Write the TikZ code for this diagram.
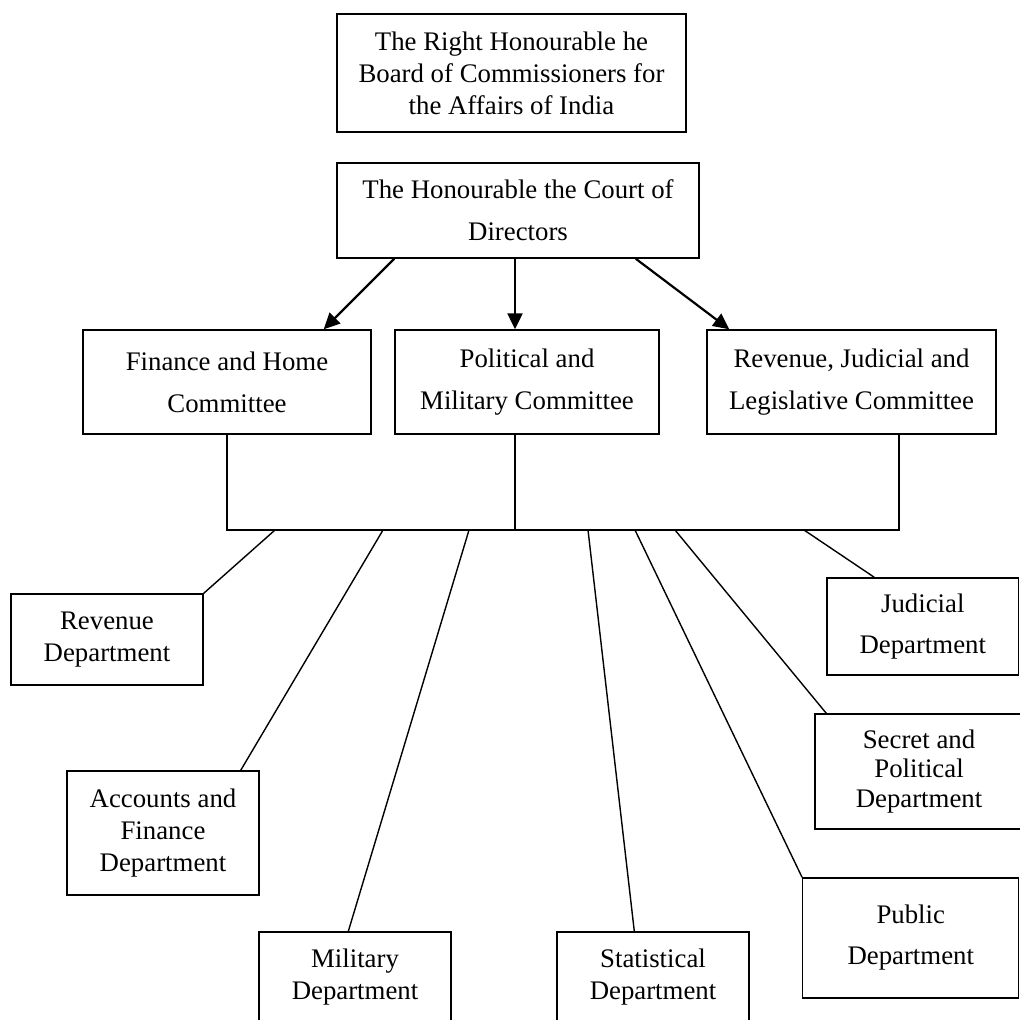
\documentclass[tikz,border=0pt]{standalone}
\usepackage{fontspec}
\setmainfont{Liberation Serif}
\usetikzlibrary{arrows.meta}
\begin{document}
\begin{tikzpicture}[x=0.5pt,y=-0.5pt,
  box/.style={draw, line width=0.7pt, inner sep=0pt, align=center, font=\fontsize{13.4}{16}\selectfont},
  wide/.style={font=\fontsize{13.4}{21}\selectfont},
  link/.style={line width=0.7pt},
  arr/.style={line width=1.1pt, -{Triangle[length=8pt,width=7.5pt]}}]
\useasboundingbox (0,0) rectangle (1020,1019);
\clip (0,0) rectangle (1020,1019);

% top level
\node[box, minimum width=174.5pt, minimum height=59pt] (board) at (511.5,73)
  {The Right Honourable he\\Board of Commissioners for\\the Affairs of India};
\node[box, wide, minimum width=181pt, minimum height=47.5pt] (court) at (518,210.5)
  {The Honourable the Court of\\Directors};

% committees
\node[box, wide, minimum width=144pt, minimum height=52pt] (fin) at (227,382)
  {Finance and Home\\Committee};
\node[box, wide, minimum width=132pt, minimum height=52pt] (pol) at (527,382)
  {Political and\\Military Committee};
\node[box, wide, minimum width=144.5pt, minimum height=52pt] (rjl) at (851.5,382)
  {Revenue, Judicial and\\Legislative Committee};

% departments
\node[box, minimum width=96pt, minimum height=45.5pt] (revd) at (107,639.5)
  {Revenue\\Department};
\node[box, minimum width=96pt, minimum height=62pt] (acc) at (163,833)
  {Accounts and\\Finance\\Department};
\node[box, minimum width=96pt, minimum height=45pt] (mil) at (355,977)
  {Military\\Department};
\node[box, minimum width=96pt, minimum height=45pt] (stat) at (653,977)
  {Statistical\\Department};
\node[box, font=\fontsize{13.4}{20.5}\selectfont, minimum width=108pt, minimum height=60pt] (pub) at (910.75,938)
  {Public\\Department};
\node[box, font=\fontsize{13.4}{14.8}\selectfont, minimum width=104pt, minimum height=57.5pt] (sec) at (919,771.5)
  {Secret and\\Political\\Department};
\node[box, font=\fontsize{13.4}{20.5}\selectfont, minimum width=95.75pt, minimum height=48.5pt] (jud) at (922.75,626.5)
  {Judicial\\Department};

% arrows from the Court of Directors
\draw[arr] ([xshift=29pt]court.south west) -- ([xshift=-24pt]fin.north east);
\draw[arr] ([xshift=-1.5pt]court.south) -- ([xshift=-6pt]pol.north);
\draw[arr] ([xshift=-32pt]court.south east) -- ([xshift=11.5pt]rjl.north west);

% bus
\coordinate (busL) at (227,530);
\coordinate (busM) at (515,530);
\coordinate (busR) at (899,530);
\draw[link] (fin.south) -- (busL) -- (busR) -- ([xshift=23.75pt]rjl.south);
\draw[link] ([xshift=-6pt]pol.south) -- (busM);

% taps on the bus
\coordinate (b1) at (275,530);
\coordinate (b2) at (383,530);
\coordinate (b3) at (469,530);
\coordinate (b4) at (588,530);
\coordinate (b5) at (635,530);
\coordinate (b6) at (675,530);
\coordinate (b7) at (804,530);

\draw[link] (b1) -- (revd.north east);
\draw[link] (b2) -- ([xshift=-9.5pt]acc.north east);
\draw[link] (b3) -- ([xshift=45pt]mil.north west);
\draw[link] (b4) -- ([xshift=39pt]stat.north west);
\draw[link] (b5) -- (pub.north west);
\draw[link] (b6) -- ([xshift=6pt]sec.north west);
\draw[link] (b7) -- ([xshift=24pt]jud.north west);
\end{tikzpicture}
\end{document}
